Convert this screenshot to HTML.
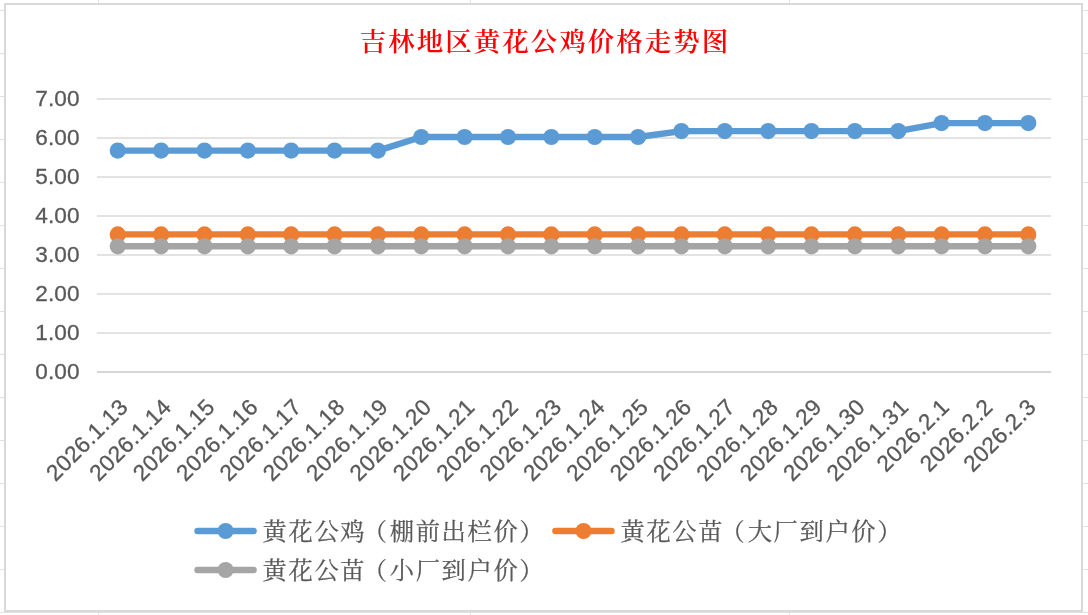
<!DOCTYPE html>
<html lang="zh-CN"><head><meta charset="utf-8"><title>吉林地区黄花公鸡价格走势图</title>
<style>
html,body{margin:0;padding:0;background:#fff;}
body{width:1088px;height:615px;overflow:hidden;position:relative;}
svg{position:absolute;left:0;top:0;display:block;}
.num{font-family:"Liberation Sans",sans-serif;font-size:22.6px;fill:#595959;stroke:#595959;stroke-width:0.3px;letter-spacing:0.15px;}
.cat{font-family:"Liberation Sans",sans-serif;font-size:22.6px;fill:#595959;stroke:#595959;stroke-width:0.3px;letter-spacing:0.45px;}
.leg{font-family:"Liberation Serif","Noto Serif CJK SC",serif;font-size:24.3px;fill:#595959;font-weight:400;letter-spacing:1.6px;stroke:#595959;stroke-width:0.25px;}
.ttl{font-family:"Liberation Serif","Noto Serif CJK SC",serif;font-size:26.5px;fill:#ff0000;font-weight:600;letter-spacing:2.0px;}
</style></head><body>
<svg width="1088" height="615" viewBox="0 0 1088 615">
<rect x="0" y="0" width="1088" height="615" fill="#ffffff"/>
<g fill="#e1e1e1" shape-rendering="crispEdges">
<rect x="0" y="10" width="1088" height="1"/>
<rect x="0" y="53" width="1088" height="1"/>
<rect x="0" y="96" width="1088" height="1"/>
<rect x="0" y="139" width="1088" height="1"/>
<rect x="0" y="182" width="1088" height="1"/>
<rect x="0" y="225" width="1088" height="1"/>
<rect x="0" y="268" width="1088" height="1"/>
<rect x="0" y="311" width="1088" height="1"/>
<rect x="0" y="354" width="1088" height="1"/>
<rect x="0" y="397" width="1088" height="1"/>
<rect x="0" y="440" width="1088" height="1"/>
<rect x="0" y="483" width="1088" height="1"/>
<rect x="0" y="526" width="1088" height="1"/>
<rect x="0" y="569" width="1088" height="1"/>
<rect x="0" y="612" width="1088" height="1"/>
<rect x="98" y="0" width="1" height="615"/>
<rect x="470" y="0" width="1" height="615"/>
<rect x="789" y="0" width="1" height="615"/>
</g>
<rect x="5" y="4" width="1077" height="607" fill="#ffffff" stroke="#d9d9d9" stroke-width="2" shape-rendering="crispEdges"/>
<text class="ttl" x="544.9" y="50.8" text-anchor="middle">吉林地区黄花公鸡价格走势图</text>
<g shape-rendering="crispEdges">
<rect x="97" y="332" width="954" height="2" fill="#e3e3e3"/>
<rect x="97" y="293" width="954" height="2" fill="#e3e3e3"/>
<rect x="97" y="254" width="954" height="2" fill="#e3e3e3"/>
<rect x="97" y="215" width="954" height="2" fill="#e3e3e3"/>
<rect x="97" y="176" width="954" height="2" fill="#e3e3e3"/>
<rect x="97" y="137" width="954" height="2" fill="#e3e3e3"/>
<rect x="97" y="98" width="954" height="2" fill="#e3e3e3"/>
<rect x="97" y="371" width="954" height="2" fill="#d6d6d6"/>
</g>
<g class="num" text-anchor="end">
<text x="79.8" y="106.3">7.00</text>
<text x="79.8" y="145.3">6.00</text>
<text x="79.8" y="184.3">5.00</text>
<text x="79.8" y="223.3">4.00</text>
<text x="79.8" y="262.3">3.00</text>
<text x="79.8" y="301.3">2.00</text>
<text x="79.8" y="340.3">1.00</text>
<text x="79.8" y="379.3">0.00</text>
</g>
<g fill="#5b9bd5" stroke="none"><polyline points="117.75,150.60 161.11,150.60 204.47,150.60 247.83,150.60 291.19,150.60 334.55,150.60 377.91,150.60 421.27,137.00 464.63,137.00 507.99,137.00 551.35,137.00 594.71,137.00 638.07,137.00 681.43,131.10 724.79,131.10 768.15,131.10 811.51,131.10 854.87,131.10 898.23,131.10 941.59,123.10 984.95,123.10 1028.31,123.10" fill="none" stroke="#5b9bd5" stroke-width="6.4" stroke-linejoin="round" stroke-linecap="round"/>
<circle cx="117.75" cy="150.60" r="8.1"/><circle cx="161.11" cy="150.60" r="8.1"/><circle cx="204.47" cy="150.60" r="8.1"/><circle cx="247.83" cy="150.60" r="8.1"/><circle cx="291.19" cy="150.60" r="8.1"/><circle cx="334.55" cy="150.60" r="8.1"/><circle cx="377.91" cy="150.60" r="8.1"/><circle cx="421.27" cy="137.00" r="8.1"/><circle cx="464.63" cy="137.00" r="8.1"/><circle cx="507.99" cy="137.00" r="8.1"/><circle cx="551.35" cy="137.00" r="8.1"/><circle cx="594.71" cy="137.00" r="8.1"/><circle cx="638.07" cy="137.00" r="8.1"/><circle cx="681.43" cy="131.10" r="8.1"/><circle cx="724.79" cy="131.10" r="8.1"/><circle cx="768.15" cy="131.10" r="8.1"/><circle cx="811.51" cy="131.10" r="8.1"/><circle cx="854.87" cy="131.10" r="8.1"/><circle cx="898.23" cy="131.10" r="8.1"/><circle cx="941.59" cy="123.10" r="8.1"/><circle cx="984.95" cy="123.10" r="8.1"/><circle cx="1028.31" cy="123.10" r="8.1"/>
</g>
<g fill="#ed7d31" stroke="none"><polyline points="117.75,234.40 161.11,234.40 204.47,234.40 247.83,234.40 291.19,234.40 334.55,234.40 377.91,234.40 421.27,234.40 464.63,234.40 507.99,234.40 551.35,234.40 594.71,234.40 638.07,234.40 681.43,234.40 724.79,234.40 768.15,234.40 811.51,234.40 854.87,234.40 898.23,234.40 941.59,234.40 984.95,234.40 1028.31,234.40" fill="none" stroke="#ed7d31" stroke-width="6.4" stroke-linejoin="round" stroke-linecap="round"/>
<circle cx="117.75" cy="234.40" r="8.1"/><circle cx="161.11" cy="234.40" r="8.1"/><circle cx="204.47" cy="234.40" r="8.1"/><circle cx="247.83" cy="234.40" r="8.1"/><circle cx="291.19" cy="234.40" r="8.1"/><circle cx="334.55" cy="234.40" r="8.1"/><circle cx="377.91" cy="234.40" r="8.1"/><circle cx="421.27" cy="234.40" r="8.1"/><circle cx="464.63" cy="234.40" r="8.1"/><circle cx="507.99" cy="234.40" r="8.1"/><circle cx="551.35" cy="234.40" r="8.1"/><circle cx="594.71" cy="234.40" r="8.1"/><circle cx="638.07" cy="234.40" r="8.1"/><circle cx="681.43" cy="234.40" r="8.1"/><circle cx="724.79" cy="234.40" r="8.1"/><circle cx="768.15" cy="234.40" r="8.1"/><circle cx="811.51" cy="234.40" r="8.1"/><circle cx="854.87" cy="234.40" r="8.1"/><circle cx="898.23" cy="234.40" r="8.1"/><circle cx="941.59" cy="234.40" r="8.1"/><circle cx="984.95" cy="234.40" r="8.1"/><circle cx="1028.31" cy="234.40" r="8.1"/>
</g>
<g fill="#a5a5a5" stroke="none"><polyline points="117.75,246.30 161.11,246.30 204.47,246.30 247.83,246.30 291.19,246.30 334.55,246.30 377.91,246.30 421.27,246.30 464.63,246.30 507.99,246.30 551.35,246.30 594.71,246.30 638.07,246.30 681.43,246.30 724.79,246.30 768.15,246.30 811.51,246.30 854.87,246.30 898.23,246.30 941.59,246.30 984.95,246.30 1028.31,246.30" fill="none" stroke="#a5a5a5" stroke-width="6.4" stroke-linejoin="round" stroke-linecap="round"/>
<circle cx="117.75" cy="246.30" r="8.1"/><circle cx="161.11" cy="246.30" r="8.1"/><circle cx="204.47" cy="246.30" r="8.1"/><circle cx="247.83" cy="246.30" r="8.1"/><circle cx="291.19" cy="246.30" r="8.1"/><circle cx="334.55" cy="246.30" r="8.1"/><circle cx="377.91" cy="246.30" r="8.1"/><circle cx="421.27" cy="246.30" r="8.1"/><circle cx="464.63" cy="246.30" r="8.1"/><circle cx="507.99" cy="246.30" r="8.1"/><circle cx="551.35" cy="246.30" r="8.1"/><circle cx="594.71" cy="246.30" r="8.1"/><circle cx="638.07" cy="246.30" r="8.1"/><circle cx="681.43" cy="246.30" r="8.1"/><circle cx="724.79" cy="246.30" r="8.1"/><circle cx="768.15" cy="246.30" r="8.1"/><circle cx="811.51" cy="246.30" r="8.1"/><circle cx="854.87" cy="246.30" r="8.1"/><circle cx="898.23" cy="246.30" r="8.1"/><circle cx="941.59" cy="246.30" r="8.1"/><circle cx="984.95" cy="246.30" r="8.1"/><circle cx="1028.31" cy="246.30" r="8.1"/>
</g>
<g class="cat" text-anchor="end">
<text transform="translate(129.40,408.30) rotate(-45)" x="0" y="0">2026.1.13</text>
<text transform="translate(172.76,408.30) rotate(-45)" x="0" y="0">2026.1.14</text>
<text transform="translate(216.12,408.30) rotate(-45)" x="0" y="0">2026.1.15</text>
<text transform="translate(259.48,408.30) rotate(-45)" x="0" y="0">2026.1.16</text>
<text transform="translate(302.84,408.30) rotate(-45)" x="0" y="0">2026.1.17</text>
<text transform="translate(346.20,408.30) rotate(-45)" x="0" y="0">2026.1.18</text>
<text transform="translate(389.56,408.30) rotate(-45)" x="0" y="0">2026.1.19</text>
<text transform="translate(432.92,408.30) rotate(-45)" x="0" y="0">2026.1.20</text>
<text transform="translate(476.28,408.30) rotate(-45)" x="0" y="0">2026.1.21</text>
<text transform="translate(519.64,408.30) rotate(-45)" x="0" y="0">2026.1.22</text>
<text transform="translate(563.00,408.30) rotate(-45)" x="0" y="0">2026.1.23</text>
<text transform="translate(606.36,408.30) rotate(-45)" x="0" y="0">2026.1.24</text>
<text transform="translate(649.72,408.30) rotate(-45)" x="0" y="0">2026.1.25</text>
<text transform="translate(693.08,408.30) rotate(-45)" x="0" y="0">2026.1.26</text>
<text transform="translate(736.44,408.30) rotate(-45)" x="0" y="0">2026.1.27</text>
<text transform="translate(779.80,408.30) rotate(-45)" x="0" y="0">2026.1.28</text>
<text transform="translate(823.16,408.30) rotate(-45)" x="0" y="0">2026.1.29</text>
<text transform="translate(866.52,408.30) rotate(-45)" x="0" y="0">2026.1.30</text>
<text transform="translate(909.88,408.30) rotate(-45)" x="0" y="0">2026.1.31</text>
<text transform="translate(950.74,408.30) rotate(-45)" x="0" y="0">2026.2.1</text>
<text transform="translate(994.10,408.30) rotate(-45)" x="0" y="0">2026.2.2</text>
<text transform="translate(1037.46,408.30) rotate(-45)" x="0" y="0">2026.2.3</text>
</g>
<line x1="197.5" y1="531" x2="253.6" y2="531" stroke="#5b9bd5" stroke-width="6.4" stroke-linecap="round"/>
<circle cx="225.6" cy="531" r="8" fill="#5b9bd5"/>
<text class="leg" x="262.6" y="539.8">黄花公鸡<tspan dx="-3.5">（</tspan><tspan dx="1.2">棚前出栏价</tspan>）</text>
<line x1="555.4" y1="531" x2="611.5" y2="531" stroke="#ed7d31" stroke-width="6.4" stroke-linecap="round"/>
<circle cx="583.5" cy="531" r="8" fill="#ed7d31"/>
<text class="leg" x="620.5" y="539.8">黄花公苗<tspan dx="-3.5">（</tspan><tspan dx="1.2">大厂到户价</tspan>）</text>
<line x1="197.5" y1="570" x2="253.6" y2="570" stroke="#a5a5a5" stroke-width="6.4" stroke-linecap="round"/>
<circle cx="225.6" cy="570" r="8" fill="#a5a5a5"/>
<text class="leg" x="262.6" y="578.8">黄花公苗<tspan dx="-3.5">（</tspan><tspan dx="1.2">小厂到户价</tspan>）</text>
</svg></body></html>
